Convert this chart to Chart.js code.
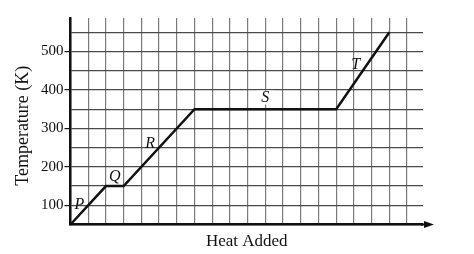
<!DOCTYPE html>
<html>
<head>
<meta charset="utf-8">
<script src="https://cdn.jsdelivr.net/npm/chart.js@4.4.0/dist/chart.umd.min.js"></script>
<style>
  html, body { margin: 0; padding: 0; background: #fff; }
  #wrap { width: 474px; height: 254px; position: relative; }
</style>
</head>
<body>
<div id="wrap"><canvas id="heatChart"></canvas></div>
<script>
// heating curve: corners of the line
var heatAdded = [0, 2, 3, 7, 15, 18];
var temperature = [50, 150, 150, 350, 350, 550];

// segment letters and where they sit (data units)
var segmentNames = ['P', 'Q', 'R', 'S', 'T'];
var segmentX = [0.5, 2.5, 4.5, 11, 16.1];
var segmentY = [100, 173, 260, 380, 465];
var segmentPatch = [false, false, false, true, false];

var serif = '"Liberation Serif", "Times New Roman", serif';

var points = heatAdded.map(function(h, i) {
    return {x: h, y: temperature[i]};
});

// letters P..T, S gets a white patch over the grid line
var segmentLabels = {
    id: 'segmentLabels',
    afterDatasetsDraw: function(chart) {
        var ctx = chart.ctx;
        var xs = chart.scales.x, ys = chart.scales.y;
        ctx.save();
        ctx.font = 'italic 16px ' + serif;
        ctx.textAlign = 'center';
        ctx.textBaseline = 'middle';
        segmentNames.forEach(function(name, i) {
            var px = xs.getPixelForValue(segmentX[i]);
            var py = ys.getPixelForValue(segmentY[i]);
            if (segmentPatch[i]) {
                var w = ctx.measureText(name).width + 8;
                ctx.fillStyle = '#fff';
                ctx.fillRect(px - w / 2, py - 7, w, 14);
            }
            ctx.fillStyle = '#111';
            ctx.fillText(name, px, py);
        });
        ctx.restore();
    }
};

// arrow head on the x axis
var axisArrow = {
    id: 'axisArrow',
    afterDraw: function(chart) {
        var ctx = chart.ctx;
        var area = chart.chartArea;
        var y = chart.scales.y.getPixelForValue(50);
        ctx.save();
        ctx.strokeStyle = '#111';
        ctx.fillStyle = '#111';
        ctx.lineWidth = 2;
        ctx.beginPath();
        ctx.moveTo(area.right - 2, y);
        ctx.lineTo(area.right + 4, y);
        ctx.stroke();
        ctx.beginPath();
        ctx.moveTo(area.right + 11, y);
        ctx.lineTo(area.right + 1, y - 3.5);
        ctx.lineTo(area.right + 1, y + 3.5);
        ctx.closePath();
        ctx.fill();
        ctx.restore();
    }
};

var config = {
    type: 'line',
    data: {
        datasets: [{
            data: points,
            borderColor: '#111',
            borderWidth: 2.5,
            pointRadius: 0,
            tension: 0,
            fill: false,
            clip: false
        }]
    },
    options: {
        responsive: true,
        maintainAspectRatio: false,
        animation: false,
        layout: {
            padding: {left: 0, right: 51, top: 18, bottom: 0}
        },
        plugins: {
            legend: {display: false},
            tooltip: {enabled: false}
        },
        scales: {
            x: {
                type: 'linear',
                min: 0,
                max: 19.9,
                afterFit: function(scale) { scale.height = 29.5; },
                ticks: {stepSize: 1, includeBounds: false, autoSkip: false, display: false},
                grid: {
                    color: '#7a7a7a',
                    lineWidth: 1.2,
                    drawTicks: false
                },
                border: {color: '#111', width: 2.5},
                title: {
                    display: true,
                    text: 'Heat Added',
                    color: '#111',
                    font: {family: serif, size: 17},
                    padding: {top: 0, bottom: 2}
                }
            },
            y: {
                type: 'linear',
                min: 50,
                max: 587,
                afterFit: function(scale) { scale.width = 70.5; },
                ticks: {
                    stepSize: 50,
                    includeBounds: false,
                    autoSkip: false,
                    padding: 1,
                    color: '#111',
                    font: {family: serif, size: 15},
                    callback: function(v) {
                        return (v % 100 === 0 && v <= 500) ? v : '';
                    }
                },
                grid: {
                    color: '#4a4a4a',
                    lineWidth: 1.2,
                    tickLength: 6,
                    tickColor: function(c) {
                        var v = c.tick && c.tick.value;
                        return (v % 100 === 0 && v <= 500) ? '#111' : 'rgba(0,0,0,0)';
                    }
                },
                border: {color: '#111', width: 2.5},
                title: {
                    display: true,
                    text: 'Temperature (K)\u00a0\u00a0',
                    color: '#111',
                    font: {family: serif, size: 18},
                    padding: {top: 12, bottom: 0}
                }
            }
        }
    },
    plugins: [segmentLabels, axisArrow]
};

window.onload = function() {
    var ctx = document.getElementById('heatChart').getContext('2d');
    window.heatChart = new Chart(ctx, config);
};
</script>
</body>
</html>
